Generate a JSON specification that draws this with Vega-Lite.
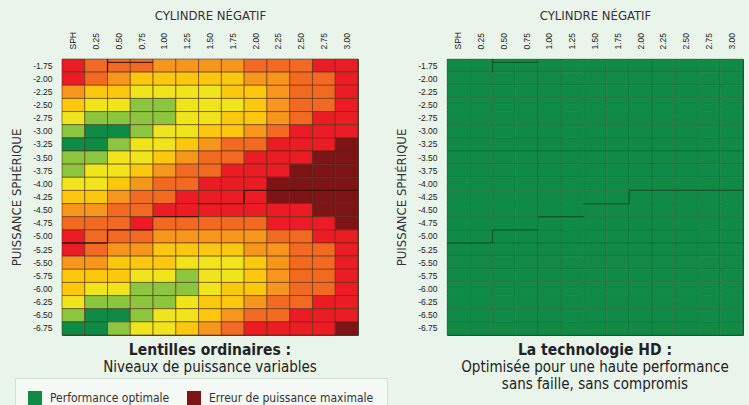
{
"$schema": "https://vega.github.io/schema/vega-lite/v6.json",
"background": "#e9f4eb",
"padding": {"left": 10, "top": 9, "right": 5, "bottom": 5},
"bounds": "flush",
"spacing": 0,
"resolve": {"legend": {"color": "independent"}},
"datasets": {
"left": [
{"c":"SPH","s":"-1.75","v":6},{"c":"0.25","s":"-1.75","v":5},{"c":"0.50","s":"-1.75","v":5},{"c":"0.75","s":"-1.75","v":5},{"c":"1.00","s":"-1.75","v":4},{"c":"1.25","s":"-1.75","v":4},{"c":"1.50","s":"-1.75","v":4},{"c":"1.75","s":"-1.75","v":4},{"c":"2.00","s":"-1.75","v":5},{"c":"2.25","s":"-1.75","v":5},{"c":"2.50","s":"-1.75","v":5},{"c":"2.75","s":"-1.75","v":6},{"c":"3.00","s":"-1.75","v":6},
{"c":"SPH","s":"-2.00","v":6},{"c":"0.25","s":"-2.00","v":5},{"c":"0.50","s":"-2.00","v":4},{"c":"0.75","s":"-2.00","v":3},{"c":"1.00","s":"-2.00","v":3},{"c":"1.25","s":"-2.00","v":3},{"c":"1.50","s":"-2.00","v":3},{"c":"1.75","s":"-2.00","v":3},{"c":"2.00","s":"-2.00","v":4},{"c":"2.25","s":"-2.00","v":4},{"c":"2.50","s":"-2.00","v":5},{"c":"2.75","s":"-2.00","v":5},{"c":"3.00","s":"-2.00","v":6},
{"c":"SPH","s":"-2.25","v":4},{"c":"0.25","s":"-2.25","v":3},{"c":"0.50","s":"-2.25","v":3},{"c":"0.75","s":"-2.25","v":2},{"c":"1.00","s":"-2.25","v":2},{"c":"1.25","s":"-2.25","v":2},{"c":"1.50","s":"-2.25","v":2},{"c":"1.75","s":"-2.25","v":3},{"c":"2.00","s":"-2.25","v":3},{"c":"2.25","s":"-2.25","v":4},{"c":"2.50","s":"-2.25","v":5},{"c":"2.75","s":"-2.25","v":5},{"c":"3.00","s":"-2.25","v":6},
{"c":"SPH","s":"-2.50","v":3},{"c":"0.25","s":"-2.50","v":2},{"c":"0.50","s":"-2.50","v":2},{"c":"0.75","s":"-2.50","v":1},{"c":"1.00","s":"-2.50","v":1},{"c":"1.25","s":"-2.50","v":2},{"c":"1.50","s":"-2.50","v":2},{"c":"1.75","s":"-2.50","v":2},{"c":"2.00","s":"-2.50","v":3},{"c":"2.25","s":"-2.50","v":4},{"c":"2.50","s":"-2.50","v":5},{"c":"2.75","s":"-2.50","v":5},{"c":"3.00","s":"-2.50","v":6},
{"c":"SPH","s":"-2.75","v":2},{"c":"0.25","s":"-2.75","v":1},{"c":"0.50","s":"-2.75","v":1},{"c":"0.75","s":"-2.75","v":1},{"c":"1.00","s":"-2.75","v":1},{"c":"1.25","s":"-2.75","v":2},{"c":"1.50","s":"-2.75","v":2},{"c":"1.75","s":"-2.75","v":3},{"c":"2.00","s":"-2.75","v":3},{"c":"2.25","s":"-2.75","v":4},{"c":"2.50","s":"-2.75","v":5},{"c":"2.75","s":"-2.75","v":6},{"c":"3.00","s":"-2.75","v":6},
{"c":"SPH","s":"-3.00","v":1},{"c":"0.25","s":"-3.00","v":0},{"c":"0.50","s":"-3.00","v":0},{"c":"0.75","s":"-3.00","v":1},{"c":"1.00","s":"-3.00","v":2},{"c":"1.25","s":"-3.00","v":2},{"c":"1.50","s":"-3.00","v":3},{"c":"1.75","s":"-3.00","v":3},{"c":"2.00","s":"-3.00","v":4},{"c":"2.25","s":"-3.00","v":5},{"c":"2.50","s":"-3.00","v":6},{"c":"2.75","s":"-3.00","v":6},{"c":"3.00","s":"-3.00","v":6},
{"c":"SPH","s":"-3.25","v":0},{"c":"0.25","s":"-3.25","v":0},{"c":"0.50","s":"-3.25","v":1},{"c":"0.75","s":"-3.25","v":2},{"c":"1.00","s":"-3.25","v":2},{"c":"1.25","s":"-3.25","v":3},{"c":"1.50","s":"-3.25","v":4},{"c":"1.75","s":"-3.25","v":5},{"c":"2.00","s":"-3.25","v":5},{"c":"2.25","s":"-3.25","v":6},{"c":"2.50","s":"-3.25","v":6},{"c":"2.75","s":"-3.25","v":6},{"c":"3.00","s":"-3.25","v":7},
{"c":"SPH","s":"-3.50","v":1},{"c":"0.25","s":"-3.50","v":1},{"c":"0.50","s":"-3.50","v":2},{"c":"0.75","s":"-3.50","v":2},{"c":"1.00","s":"-3.50","v":3},{"c":"1.25","s":"-3.50","v":4},{"c":"1.50","s":"-3.50","v":5},{"c":"1.75","s":"-3.50","v":5},{"c":"2.00","s":"-3.50","v":6},{"c":"2.25","s":"-3.50","v":6},{"c":"2.50","s":"-3.50","v":6},{"c":"2.75","s":"-3.50","v":7},{"c":"3.00","s":"-3.50","v":7},
{"c":"SPH","s":"-3.75","v":1},{"c":"0.25","s":"-3.75","v":2},{"c":"0.50","s":"-3.75","v":2},{"c":"0.75","s":"-3.75","v":3},{"c":"1.00","s":"-3.75","v":4},{"c":"1.25","s":"-3.75","v":5},{"c":"1.50","s":"-3.75","v":5},{"c":"1.75","s":"-3.75","v":6},{"c":"2.00","s":"-3.75","v":6},{"c":"2.25","s":"-3.75","v":6},{"c":"2.50","s":"-3.75","v":7},{"c":"2.75","s":"-3.75","v":7},{"c":"3.00","s":"-3.75","v":7},
{"c":"SPH","s":"-4.00","v":2},{"c":"0.25","s":"-4.00","v":2},{"c":"0.50","s":"-4.00","v":3},{"c":"0.75","s":"-4.00","v":4},{"c":"1.00","s":"-4.00","v":5},{"c":"1.25","s":"-4.00","v":5},{"c":"1.50","s":"-4.00","v":6},{"c":"1.75","s":"-4.00","v":6},{"c":"2.00","s":"-4.00","v":6},{"c":"2.25","s":"-4.00","v":7},{"c":"2.50","s":"-4.00","v":7},{"c":"2.75","s":"-4.00","v":7},{"c":"3.00","s":"-4.00","v":7},
{"c":"SPH","s":"-4.25","v":3},{"c":"0.25","s":"-4.25","v":3},{"c":"0.50","s":"-4.25","v":4},{"c":"0.75","s":"-4.25","v":5},{"c":"1.00","s":"-4.25","v":5},{"c":"1.25","s":"-4.25","v":6},{"c":"1.50","s":"-4.25","v":6},{"c":"1.75","s":"-4.25","v":6},{"c":"2.00","s":"-4.25","v":6},{"c":"2.25","s":"-4.25","v":7},{"c":"2.50","s":"-4.25","v":7},{"c":"2.75","s":"-4.25","v":7},{"c":"3.00","s":"-4.25","v":7},
{"c":"SPH","s":"-4.50","v":4},{"c":"0.25","s":"-4.50","v":4},{"c":"0.50","s":"-4.50","v":5},{"c":"0.75","s":"-4.50","v":5},{"c":"1.00","s":"-4.50","v":6},{"c":"1.25","s":"-4.50","v":6},{"c":"1.50","s":"-4.50","v":6},{"c":"1.75","s":"-4.50","v":6},{"c":"2.00","s":"-4.50","v":6},{"c":"2.25","s":"-4.50","v":6},{"c":"2.50","s":"-4.50","v":6},{"c":"2.75","s":"-4.50","v":7},{"c":"3.00","s":"-4.50","v":7},
{"c":"SPH","s":"-4.75","v":5},{"c":"0.25","s":"-4.75","v":5},{"c":"0.50","s":"-4.75","v":5},{"c":"0.75","s":"-4.75","v":6},{"c":"1.00","s":"-4.75","v":5},{"c":"1.25","s":"-4.75","v":5},{"c":"1.50","s":"-4.75","v":5},{"c":"1.75","s":"-4.75","v":5},{"c":"2.00","s":"-4.75","v":5},{"c":"2.25","s":"-4.75","v":6},{"c":"2.50","s":"-4.75","v":6},{"c":"2.75","s":"-4.75","v":6},{"c":"3.00","s":"-4.75","v":7},
{"c":"SPH","s":"-5.00","v":6},{"c":"0.25","s":"-5.00","v":5},{"c":"0.50","s":"-5.00","v":5},{"c":"0.75","s":"-5.00","v":5},{"c":"1.00","s":"-5.00","v":4},{"c":"1.25","s":"-5.00","v":4},{"c":"1.50","s":"-5.00","v":4},{"c":"1.75","s":"-5.00","v":4},{"c":"2.00","s":"-5.00","v":4},{"c":"2.25","s":"-5.00","v":5},{"c":"2.50","s":"-5.00","v":5},{"c":"2.75","s":"-5.00","v":6},{"c":"3.00","s":"-5.00","v":6},
{"c":"SPH","s":"-5.25","v":6},{"c":"0.25","s":"-5.25","v":5},{"c":"0.50","s":"-5.25","v":4},{"c":"0.75","s":"-5.25","v":4},{"c":"1.00","s":"-5.25","v":3},{"c":"1.25","s":"-5.25","v":3},{"c":"1.50","s":"-5.25","v":3},{"c":"1.75","s":"-5.25","v":3},{"c":"2.00","s":"-5.25","v":4},{"c":"2.25","s":"-5.25","v":4},{"c":"2.50","s":"-5.25","v":5},{"c":"2.75","s":"-5.25","v":5},{"c":"3.00","s":"-5.25","v":6},
{"c":"SPH","s":"-5.50","v":4},{"c":"0.25","s":"-5.50","v":4},{"c":"0.50","s":"-5.50","v":3},{"c":"0.75","s":"-5.50","v":3},{"c":"1.00","s":"-5.50","v":3},{"c":"1.25","s":"-5.50","v":2},{"c":"1.50","s":"-5.50","v":2},{"c":"1.75","s":"-5.50","v":2},{"c":"2.00","s":"-5.50","v":3},{"c":"2.25","s":"-5.50","v":4},{"c":"2.50","s":"-5.50","v":5},{"c":"2.75","s":"-5.50","v":5},{"c":"3.00","s":"-5.50","v":6},
{"c":"SPH","s":"-5.75","v":3},{"c":"0.25","s":"-5.75","v":3},{"c":"0.50","s":"-5.75","v":3},{"c":"0.75","s":"-5.75","v":2},{"c":"1.00","s":"-5.75","v":2},{"c":"1.25","s":"-5.75","v":1},{"c":"1.50","s":"-5.75","v":2},{"c":"1.75","s":"-5.75","v":2},{"c":"2.00","s":"-5.75","v":3},{"c":"2.25","s":"-5.75","v":4},{"c":"2.50","s":"-5.75","v":5},{"c":"2.75","s":"-5.75","v":5},{"c":"3.00","s":"-5.75","v":6},
{"c":"SPH","s":"-6.00","v":3},{"c":"0.25","s":"-6.00","v":2},{"c":"0.50","s":"-6.00","v":2},{"c":"0.75","s":"-6.00","v":1},{"c":"1.00","s":"-6.00","v":1},{"c":"1.25","s":"-6.00","v":1},{"c":"1.50","s":"-6.00","v":2},{"c":"1.75","s":"-6.00","v":3},{"c":"2.00","s":"-6.00","v":3},{"c":"2.25","s":"-6.00","v":4},{"c":"2.50","s":"-6.00","v":5},{"c":"2.75","s":"-6.00","v":5},{"c":"3.00","s":"-6.00","v":6},
{"c":"SPH","s":"-6.25","v":2},{"c":"0.25","s":"-6.25","v":1},{"c":"0.50","s":"-6.25","v":1},{"c":"0.75","s":"-6.25","v":1},{"c":"1.00","s":"-6.25","v":1},{"c":"1.25","s":"-6.25","v":2},{"c":"1.50","s":"-6.25","v":3},{"c":"1.75","s":"-6.25","v":3},{"c":"2.00","s":"-6.25","v":4},{"c":"2.25","s":"-6.25","v":5},{"c":"2.50","s":"-6.25","v":5},{"c":"2.75","s":"-6.25","v":6},{"c":"3.00","s":"-6.25","v":6},
{"c":"SPH","s":"-6.50","v":1},{"c":"0.25","s":"-6.50","v":0},{"c":"0.50","s":"-6.50","v":0},{"c":"0.75","s":"-6.50","v":1},{"c":"1.00","s":"-6.50","v":2},{"c":"1.25","s":"-6.50","v":2},{"c":"1.50","s":"-6.50","v":3},{"c":"1.75","s":"-6.50","v":4},{"c":"2.00","s":"-6.50","v":5},{"c":"2.25","s":"-6.50","v":5},{"c":"2.50","s":"-6.50","v":6},{"c":"2.75","s":"-6.50","v":6},{"c":"3.00","s":"-6.50","v":6},
{"c":"SPH","s":"-6.75","v":0},{"c":"0.25","s":"-6.75","v":0},{"c":"0.50","s":"-6.75","v":1},{"c":"0.75","s":"-6.75","v":2},{"c":"1.00","s":"-6.75","v":2},{"c":"1.25","s":"-6.75","v":3},{"c":"1.50","s":"-6.75","v":4},{"c":"1.75","s":"-6.75","v":5},{"c":"2.00","s":"-6.75","v":6},{"c":"2.25","s":"-6.75","v":6},{"c":"2.50","s":"-6.75","v":6},{"c":"2.75","s":"-6.75","v":6},{"c":"3.00","s":"-6.75","v":7}
],
"right": [
{"c":"SPH","s":"-1.75","v":0},{"c":"0.25","s":"-1.75","v":0},{"c":"0.50","s":"-1.75","v":0},{"c":"0.75","s":"-1.75","v":0},{"c":"1.00","s":"-1.75","v":0},{"c":"1.25","s":"-1.75","v":0},{"c":"1.50","s":"-1.75","v":0},{"c":"1.75","s":"-1.75","v":0},{"c":"2.00","s":"-1.75","v":0},{"c":"2.25","s":"-1.75","v":0},{"c":"2.50","s":"-1.75","v":0},{"c":"2.75","s":"-1.75","v":0},{"c":"3.00","s":"-1.75","v":0},
{"c":"SPH","s":"-2.00","v":0},{"c":"0.25","s":"-2.00","v":0},{"c":"0.50","s":"-2.00","v":0},{"c":"0.75","s":"-2.00","v":0},{"c":"1.00","s":"-2.00","v":0},{"c":"1.25","s":"-2.00","v":0},{"c":"1.50","s":"-2.00","v":0},{"c":"1.75","s":"-2.00","v":0},{"c":"2.00","s":"-2.00","v":0},{"c":"2.25","s":"-2.00","v":0},{"c":"2.50","s":"-2.00","v":0},{"c":"2.75","s":"-2.00","v":0},{"c":"3.00","s":"-2.00","v":0},
{"c":"SPH","s":"-2.25","v":0},{"c":"0.25","s":"-2.25","v":0},{"c":"0.50","s":"-2.25","v":0},{"c":"0.75","s":"-2.25","v":0},{"c":"1.00","s":"-2.25","v":0},{"c":"1.25","s":"-2.25","v":0},{"c":"1.50","s":"-2.25","v":0},{"c":"1.75","s":"-2.25","v":0},{"c":"2.00","s":"-2.25","v":0},{"c":"2.25","s":"-2.25","v":0},{"c":"2.50","s":"-2.25","v":0},{"c":"2.75","s":"-2.25","v":0},{"c":"3.00","s":"-2.25","v":0},
{"c":"SPH","s":"-2.50","v":0},{"c":"0.25","s":"-2.50","v":0},{"c":"0.50","s":"-2.50","v":0},{"c":"0.75","s":"-2.50","v":0},{"c":"1.00","s":"-2.50","v":0},{"c":"1.25","s":"-2.50","v":0},{"c":"1.50","s":"-2.50","v":0},{"c":"1.75","s":"-2.50","v":0},{"c":"2.00","s":"-2.50","v":0},{"c":"2.25","s":"-2.50","v":0},{"c":"2.50","s":"-2.50","v":0},{"c":"2.75","s":"-2.50","v":0},{"c":"3.00","s":"-2.50","v":0},
{"c":"SPH","s":"-2.75","v":0},{"c":"0.25","s":"-2.75","v":0},{"c":"0.50","s":"-2.75","v":0},{"c":"0.75","s":"-2.75","v":0},{"c":"1.00","s":"-2.75","v":0},{"c":"1.25","s":"-2.75","v":0},{"c":"1.50","s":"-2.75","v":0},{"c":"1.75","s":"-2.75","v":0},{"c":"2.00","s":"-2.75","v":0},{"c":"2.25","s":"-2.75","v":0},{"c":"2.50","s":"-2.75","v":0},{"c":"2.75","s":"-2.75","v":0},{"c":"3.00","s":"-2.75","v":0},
{"c":"SPH","s":"-3.00","v":0},{"c":"0.25","s":"-3.00","v":0},{"c":"0.50","s":"-3.00","v":0},{"c":"0.75","s":"-3.00","v":0},{"c":"1.00","s":"-3.00","v":0},{"c":"1.25","s":"-3.00","v":0},{"c":"1.50","s":"-3.00","v":0},{"c":"1.75","s":"-3.00","v":0},{"c":"2.00","s":"-3.00","v":0},{"c":"2.25","s":"-3.00","v":0},{"c":"2.50","s":"-3.00","v":0},{"c":"2.75","s":"-3.00","v":0},{"c":"3.00","s":"-3.00","v":0},
{"c":"SPH","s":"-3.25","v":0},{"c":"0.25","s":"-3.25","v":0},{"c":"0.50","s":"-3.25","v":0},{"c":"0.75","s":"-3.25","v":0},{"c":"1.00","s":"-3.25","v":0},{"c":"1.25","s":"-3.25","v":0},{"c":"1.50","s":"-3.25","v":0},{"c":"1.75","s":"-3.25","v":0},{"c":"2.00","s":"-3.25","v":0},{"c":"2.25","s":"-3.25","v":0},{"c":"2.50","s":"-3.25","v":0},{"c":"2.75","s":"-3.25","v":0},{"c":"3.00","s":"-3.25","v":0},
{"c":"SPH","s":"-3.50","v":0},{"c":"0.25","s":"-3.50","v":0},{"c":"0.50","s":"-3.50","v":0},{"c":"0.75","s":"-3.50","v":0},{"c":"1.00","s":"-3.50","v":0},{"c":"1.25","s":"-3.50","v":0},{"c":"1.50","s":"-3.50","v":0},{"c":"1.75","s":"-3.50","v":0},{"c":"2.00","s":"-3.50","v":0},{"c":"2.25","s":"-3.50","v":0},{"c":"2.50","s":"-3.50","v":0},{"c":"2.75","s":"-3.50","v":0},{"c":"3.00","s":"-3.50","v":0},
{"c":"SPH","s":"-3.75","v":0},{"c":"0.25","s":"-3.75","v":0},{"c":"0.50","s":"-3.75","v":0},{"c":"0.75","s":"-3.75","v":0},{"c":"1.00","s":"-3.75","v":0},{"c":"1.25","s":"-3.75","v":0},{"c":"1.50","s":"-3.75","v":0},{"c":"1.75","s":"-3.75","v":0},{"c":"2.00","s":"-3.75","v":0},{"c":"2.25","s":"-3.75","v":0},{"c":"2.50","s":"-3.75","v":0},{"c":"2.75","s":"-3.75","v":0},{"c":"3.00","s":"-3.75","v":0},
{"c":"SPH","s":"-4.00","v":0},{"c":"0.25","s":"-4.00","v":0},{"c":"0.50","s":"-4.00","v":0},{"c":"0.75","s":"-4.00","v":0},{"c":"1.00","s":"-4.00","v":0},{"c":"1.25","s":"-4.00","v":0},{"c":"1.50","s":"-4.00","v":0},{"c":"1.75","s":"-4.00","v":0},{"c":"2.00","s":"-4.00","v":0},{"c":"2.25","s":"-4.00","v":0},{"c":"2.50","s":"-4.00","v":0},{"c":"2.75","s":"-4.00","v":0},{"c":"3.00","s":"-4.00","v":0},
{"c":"SPH","s":"-4.25","v":0},{"c":"0.25","s":"-4.25","v":0},{"c":"0.50","s":"-4.25","v":0},{"c":"0.75","s":"-4.25","v":0},{"c":"1.00","s":"-4.25","v":0},{"c":"1.25","s":"-4.25","v":0},{"c":"1.50","s":"-4.25","v":0},{"c":"1.75","s":"-4.25","v":0},{"c":"2.00","s":"-4.25","v":0},{"c":"2.25","s":"-4.25","v":0},{"c":"2.50","s":"-4.25","v":0},{"c":"2.75","s":"-4.25","v":0},{"c":"3.00","s":"-4.25","v":0},
{"c":"SPH","s":"-4.50","v":0},{"c":"0.25","s":"-4.50","v":0},{"c":"0.50","s":"-4.50","v":0},{"c":"0.75","s":"-4.50","v":0},{"c":"1.00","s":"-4.50","v":0},{"c":"1.25","s":"-4.50","v":0},{"c":"1.50","s":"-4.50","v":0},{"c":"1.75","s":"-4.50","v":0},{"c":"2.00","s":"-4.50","v":0},{"c":"2.25","s":"-4.50","v":0},{"c":"2.50","s":"-4.50","v":0},{"c":"2.75","s":"-4.50","v":0},{"c":"3.00","s":"-4.50","v":0},
{"c":"SPH","s":"-4.75","v":0},{"c":"0.25","s":"-4.75","v":0},{"c":"0.50","s":"-4.75","v":0},{"c":"0.75","s":"-4.75","v":0},{"c":"1.00","s":"-4.75","v":0},{"c":"1.25","s":"-4.75","v":0},{"c":"1.50","s":"-4.75","v":0},{"c":"1.75","s":"-4.75","v":0},{"c":"2.00","s":"-4.75","v":0},{"c":"2.25","s":"-4.75","v":0},{"c":"2.50","s":"-4.75","v":0},{"c":"2.75","s":"-4.75","v":0},{"c":"3.00","s":"-4.75","v":0},
{"c":"SPH","s":"-5.00","v":0},{"c":"0.25","s":"-5.00","v":0},{"c":"0.50","s":"-5.00","v":0},{"c":"0.75","s":"-5.00","v":0},{"c":"1.00","s":"-5.00","v":0},{"c":"1.25","s":"-5.00","v":0},{"c":"1.50","s":"-5.00","v":0},{"c":"1.75","s":"-5.00","v":0},{"c":"2.00","s":"-5.00","v":0},{"c":"2.25","s":"-5.00","v":0},{"c":"2.50","s":"-5.00","v":0},{"c":"2.75","s":"-5.00","v":0},{"c":"3.00","s":"-5.00","v":0},
{"c":"SPH","s":"-5.25","v":0},{"c":"0.25","s":"-5.25","v":0},{"c":"0.50","s":"-5.25","v":0},{"c":"0.75","s":"-5.25","v":0},{"c":"1.00","s":"-5.25","v":0},{"c":"1.25","s":"-5.25","v":0},{"c":"1.50","s":"-5.25","v":0},{"c":"1.75","s":"-5.25","v":0},{"c":"2.00","s":"-5.25","v":0},{"c":"2.25","s":"-5.25","v":0},{"c":"2.50","s":"-5.25","v":0},{"c":"2.75","s":"-5.25","v":0},{"c":"3.00","s":"-5.25","v":0},
{"c":"SPH","s":"-5.50","v":0},{"c":"0.25","s":"-5.50","v":0},{"c":"0.50","s":"-5.50","v":0},{"c":"0.75","s":"-5.50","v":0},{"c":"1.00","s":"-5.50","v":0},{"c":"1.25","s":"-5.50","v":0},{"c":"1.50","s":"-5.50","v":0},{"c":"1.75","s":"-5.50","v":0},{"c":"2.00","s":"-5.50","v":0},{"c":"2.25","s":"-5.50","v":0},{"c":"2.50","s":"-5.50","v":0},{"c":"2.75","s":"-5.50","v":0},{"c":"3.00","s":"-5.50","v":0},
{"c":"SPH","s":"-5.75","v":0},{"c":"0.25","s":"-5.75","v":0},{"c":"0.50","s":"-5.75","v":0},{"c":"0.75","s":"-5.75","v":0},{"c":"1.00","s":"-5.75","v":0},{"c":"1.25","s":"-5.75","v":0},{"c":"1.50","s":"-5.75","v":0},{"c":"1.75","s":"-5.75","v":0},{"c":"2.00","s":"-5.75","v":0},{"c":"2.25","s":"-5.75","v":0},{"c":"2.50","s":"-5.75","v":0},{"c":"2.75","s":"-5.75","v":0},{"c":"3.00","s":"-5.75","v":0},
{"c":"SPH","s":"-6.00","v":0},{"c":"0.25","s":"-6.00","v":0},{"c":"0.50","s":"-6.00","v":0},{"c":"0.75","s":"-6.00","v":0},{"c":"1.00","s":"-6.00","v":0},{"c":"1.25","s":"-6.00","v":0},{"c":"1.50","s":"-6.00","v":0},{"c":"1.75","s":"-6.00","v":0},{"c":"2.00","s":"-6.00","v":0},{"c":"2.25","s":"-6.00","v":0},{"c":"2.50","s":"-6.00","v":0},{"c":"2.75","s":"-6.00","v":0},{"c":"3.00","s":"-6.00","v":0},
{"c":"SPH","s":"-6.25","v":0},{"c":"0.25","s":"-6.25","v":0},{"c":"0.50","s":"-6.25","v":0},{"c":"0.75","s":"-6.25","v":0},{"c":"1.00","s":"-6.25","v":0},{"c":"1.25","s":"-6.25","v":0},{"c":"1.50","s":"-6.25","v":0},{"c":"1.75","s":"-6.25","v":0},{"c":"2.00","s":"-6.25","v":0},{"c":"2.25","s":"-6.25","v":0},{"c":"2.50","s":"-6.25","v":0},{"c":"2.75","s":"-6.25","v":0},{"c":"3.00","s":"-6.25","v":0},
{"c":"SPH","s":"-6.50","v":0},{"c":"0.25","s":"-6.50","v":0},{"c":"0.50","s":"-6.50","v":0},{"c":"0.75","s":"-6.50","v":0},{"c":"1.00","s":"-6.50","v":0},{"c":"1.25","s":"-6.50","v":0},{"c":"1.50","s":"-6.50","v":0},{"c":"1.75","s":"-6.50","v":0},{"c":"2.00","s":"-6.50","v":0},{"c":"2.25","s":"-6.50","v":0},{"c":"2.50","s":"-6.50","v":0},{"c":"2.75","s":"-6.50","v":0},{"c":"3.00","s":"-6.50","v":0},
{"c":"SPH","s":"-6.75","v":0},{"c":"0.25","s":"-6.75","v":0},{"c":"0.50","s":"-6.75","v":0},{"c":"0.75","s":"-6.75","v":0},{"c":"1.00","s":"-6.75","v":0},{"c":"1.25","s":"-6.75","v":0},{"c":"1.50","s":"-6.75","v":0},{"c":"1.75","s":"-6.75","v":0},{"c":"2.00","s":"-6.75","v":0},{"c":"2.25","s":"-6.75","v":0},{"c":"2.50","s":"-6.75","v":0},{"c":"2.75","s":"-6.75","v":0},{"c":"3.00","s":"-6.75","v":0}
],
"steps": [
{"x":2,"x2":4,"y":0.25,"y2":0.25},{"x":2,"x2":2,"y":0,"y2":1},
{"x":8,"x2":13,"y":10,"y2":10},{"x":8,"x2":8,"y":10,"y2":11},{"x":6,"x2":8,"y":11,"y2":11},
{"x":4,"x2":6,"y":12,"y2":12},{"x":2,"x2":4,"y":13,"y2":13},{"x":2,"x2":2,"y":13,"y2":14},{"x":0,"x2":2,"y":14,"y2":14}
],
"legendrows": [{"v":0},{"v":7}]
},
"vconcat": [
{
"bounds": "flush",
"spacing": 89,
"resolve": {"legend": {"color": "independent"}},
"hconcat": [
{
"width": 296, "height": 276,
"title": {"text": "Lentilles ordinaires :", "subtitle": "Niveaux de puissance variables", "orient": "bottom"},
"layer": [
{"data": {"name": "left"},
"mark": {"type": "rect", "stroke": "#4a2810", "strokeWidth": 1, "strokeOpacity": 0.55},
"encoding": {
"x": {"field": "c", "type": "ordinal", "scale": {"domain": ["SPH","0.25","0.50","0.75","1.00","1.25","1.50","1.75","2.00","2.25","2.50","2.75","3.00"]}, "axis": {"orient": "top", "title": "CYLINDRE NÉGATIF", "labelAngle": -90}},
"y": {"field": "s", "type": "ordinal", "scale": {"domain": ["-1.75","-2.00","-2.25","-2.50","-2.75","-3.00","-3.25","-3.50","-3.75","-4.00","-4.25","-4.50","-4.75","-5.00","-5.25","-5.50","-5.75","-6.00","-6.25","-6.50","-6.75"]}, "axis": {"title": "PUISSANCE SPHÉRIQUE"}},
"color": {"field": "v", "type": "ordinal",
"scale": {"domain": [0,1,2,3,4,5,6,7], "range": ["#0f8b45","#8cc63e","#f0e41c","#fcc70f","#f7961d","#f26a22","#ec1c24","#7d1416"]},
"legend": null}
}},
{"data": {"name": "steps"},
"mark": {"type": "rule", "color": "#3d0c0c", "strokeWidth": 1.3, "opacity": 0.85},
"encoding": {
"x": {"field": "x", "type": "quantitative", "scale": {"domain": [0,13], "nice": false, "zero": false}, "axis": null},
"x2": {"field": "x2"},
"y": {"field": "y", "type": "quantitative", "scale": {"domain": [0,21], "nice": false, "zero": false, "reverse": true}, "axis": null},
"y2": {"field": "y2"}
}}
],
"resolve": {"scale": {"x": "independent", "y": "independent"}}
},
{
"width": 296, "height": 276,
"title": {"text": "La technologie HD :", "subtitle": ["Optimisée pour une haute performance", "sans faille, sans compromis"], "orient": "bottom"},
"layer": [
{"data": {"name": "right"},
"mark": {"type": "rect", "stroke": "#0a3a1c", "strokeWidth": 1, "strokeOpacity": 0.25},
"encoding": {
"x": {"field": "c", "type": "ordinal", "scale": {"domain": ["SPH","0.25","0.50","0.75","1.00","1.25","1.50","1.75","2.00","2.25","2.50","2.75","3.00"]}, "axis": {"orient": "top", "title": "CYLINDRE NÉGATIF", "labelAngle": -90}},
"y": {"field": "s", "type": "ordinal", "scale": {"domain": ["-1.75","-2.00","-2.25","-2.50","-2.75","-3.00","-3.25","-3.50","-3.75","-4.00","-4.25","-4.50","-4.75","-5.00","-5.25","-5.50","-5.75","-6.00","-6.25","-6.50","-6.75"]}, "axis": {"title": "PUISSANCE SPHÉRIQUE"}},
"color": {"field": "v", "type": "ordinal",
"scale": {"domain": [0,1,2,3,4,5,6,7], "range": ["#0f8b45","#8cc63e","#f0e41c","#fcc70f","#f7961d","#f26a22","#ec1c24","#7d1416"]},
"legend": null}
}},
{"data": {"name": "steps"},
"mark": {"type": "rule", "color": "#0a3a1c", "strokeWidth": 1.2, "opacity": 0.6},
"encoding": {
"x": {"field": "x", "type": "quantitative", "scale": {"domain": [0,13], "nice": false, "zero": false}, "axis": null},
"x2": {"field": "x2"},
"y": {"field": "y", "type": "quantitative", "scale": {"domain": [0,21], "nice": false, "zero": false, "reverse": true}, "axis": null},
"y2": {"field": "y2"}
}}
],
"resolve": {"scale": {"x": "independent", "y": "independent"}}
}
]
},
{
"width": 296, "height": 10,
"view": {"stroke": null},
"data": {"name": "legendrows"},
"mark": {"type": "text", "text": ""},
"encoding": {
"color": {"field": "v", "type": "ordinal",
"scale": {"domain": [0,1,2,3,4,5,6,7], "range": ["#0f8b45","#8cc63e","#f0e41c","#fcc70f","#f7961d","#f26a22","#ec1c24","#7d1416"]},
"legend": {"orient": "none", "legendX": -47, "legendY": 319, "direction": "horizontal", "columns": 2, "values": [0,7], "labelExpr": "datum.value == 0 ? 'Performance optimale' : 'Erreur de puissance maximale'", "title": null, "symbolType": "square", "symbolSize": 196, "symbolStrokeWidth": 0, "symbolOpacity": 1, "labelFont": "DejaVu Sans Condensed", "labelFontSize": 12, "labelLimit": 300, "labelColor": "#333333", "labelOffset": 8, "columnPadding": 17, "padding": 13, "fillColor": "#f4f9f5", "strokeColor": "#cde0d1"}}
}
}
],
"config": {
"view": {"stroke": "#444444", "strokeWidth": 1},
"axis": {"domain": false, "ticks": false, "tickSize": 0, "grid": false, "labelFont": "Liberation Sans", "labelFontSize": 8.5, "labelColor": "#222222", "labelPadding": 10, "titleFont": "DejaVu Sans Condensed", "titleFontSize": 13, "titleFontWeight": "normal", "titleColor": "#333333", "titlePadding": 9},
"title": {"font": "DejaVu Sans Condensed", "fontSize": 15.5, "fontWeight": "bold", "color": "#222222", "subtitleFont": "DejaVu Sans Condensed", "subtitleFontSize": 15, "subtitleColor": "#222222", "subtitlePadding": 2, "subtitleLineHeight": 16.5, "offset": 7, "anchor": "middle"}
}
}
